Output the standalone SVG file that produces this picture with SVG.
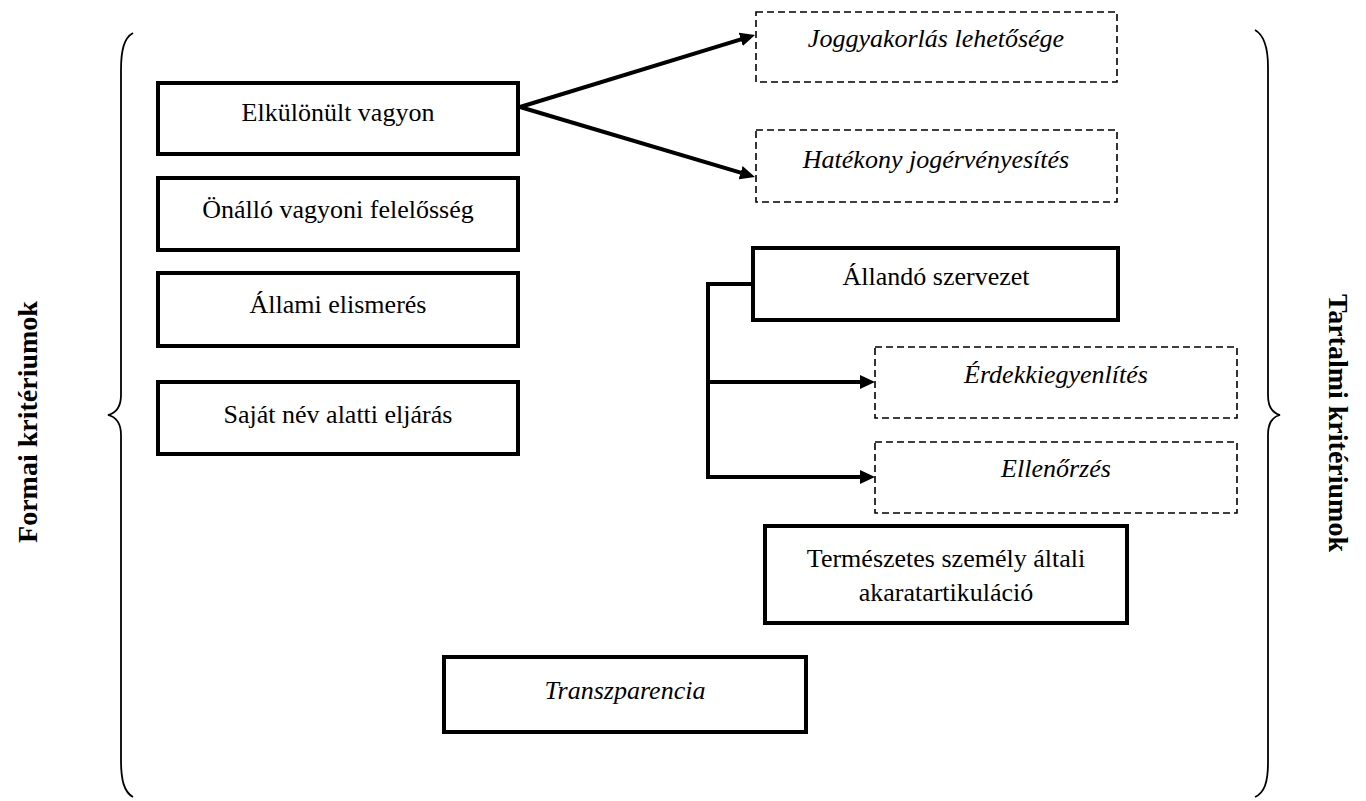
<svg xmlns="http://www.w3.org/2000/svg" width="1366" height="801" viewBox="0 0 1366 801">
  <style>
    .solid { fill: #ffffff; stroke: #000000; stroke-width: 4; }
    .dash { fill: #ffffff; stroke: #000000; stroke-width: 1.6; stroke-dasharray: 7 4; }
    .lbl { font-family: "Liberation Serif", "Times New Roman", serif; font-size: 26px; fill: #000000; text-anchor: middle; }
    .it { font-style: italic; }
    .side { font-family: "Liberation Serif", "Times New Roman", serif; font-size: 28px; font-weight: bold; fill: #000000; text-anchor: middle; dominant-baseline: central; }
    .brace { fill: none; stroke: #000000; stroke-width: 1.8; }
    .conn { fill: none; stroke: #000000; stroke-width: 4; }
  </style>
  <defs>
    <marker id="arrow" markerUnits="userSpaceOnUse" markerWidth="16" markerHeight="14" refX="7" refY="7" orient="auto">
      <path d="M0,0 L15,7 L0,14 z" fill="#000000"/>
    </marker>
  </defs>

  <g id="brace-left">
    <path class="brace" d="M133,33 C124,38 121,50 121,70 L121,395 C121,407 116,413 108,415 C116,417 121,423 121,435 L121,760 C121,780 124,792 133,797"/>
    <text class="side" transform="translate(27,422) rotate(-90)">Formai kritériumok</text>
  </g>
  <g id="brace-right">
    <path class="brace" d="M1255,30 C1264,35 1268,47 1268,67 L1268,395 C1268,407 1272,413 1280,415 C1272,417 1268,423 1268,435 L1268,763 C1268,783 1264,793 1255,797"/>
    <text class="side" transform="translate(1338,423) rotate(90)">Tartalmi kritériumok</text>
  </g>

  <g id="connectors">
    <line class="conn" x1="520" y1="107" x2="747.4" y2="37.3" marker-end="url(#arrow)"/>
    <line class="conn" x1="520" y1="107" x2="747.3" y2="174.7" marker-end="url(#arrow)"/>
    <path class="conn" d="M753,284 H708 V382 H867" marker-end="url(#arrow)"/>
    <path class="conn" d="M708,380 V477 H867" marker-end="url(#arrow)"/>
  </g>

  <g id="n-elkulonult">
    <rect class="solid" x="158" y="83" width="360" height="71"/>
    <text class="lbl" x="338" y="121">Elkülönült vagyon</text>
  </g>
  <g id="n-onallo">
    <rect class="solid" x="158" y="178" width="360" height="72"/>
    <text class="lbl" x="338" y="218">Önálló vagyoni felelősség</text>
  </g>
  <g id="n-allami">
    <rect class="solid" x="158" y="273" width="360" height="73"/>
    <text class="lbl" x="338" y="313">Állami elismerés</text>
  </g>
  <g id="n-sajat">
    <rect class="solid" x="158" y="382" width="360" height="72"/>
    <text class="lbl" x="338" y="423">Saját név alatti eljárás</text>
  </g>

  <g id="n-joggyakorlas">
    <rect class="dash" x="756" y="12" width="361" height="70"/>
    <text class="lbl it" x="936" y="47">Joggyakorlás lehetősége</text>
  </g>
  <g id="n-hatekony">
    <rect class="dash" x="756" y="130" width="361" height="72"/>
    <text class="lbl it" x="936" y="168">Hatékony jogérvényesítés</text>
  </g>
  <g id="n-allando">
    <rect class="solid" x="753" y="248" width="365" height="72"/>
    <text class="lbl" x="936" y="285">Állandó szervezet</text>
  </g>
  <g id="n-erdek">
    <rect class="dash" x="875" y="347" width="362" height="71"/>
    <text class="lbl it" x="1056" y="383">Érdekkiegyenlítés</text>
  </g>
  <g id="n-ellenorzes">
    <rect class="dash" x="875" y="442" width="362" height="71"/>
    <text class="lbl it" x="1056" y="477">Ellenőrzés</text>
  </g>
  <g id="n-termeszetes">
    <rect class="solid" x="765" y="526" width="362" height="97"/>
    <text class="lbl" x="946" y="567">Természetes személy általi</text>
    <text class="lbl" x="946" y="601">akaratartikuláció</text>
  </g>
  <g id="n-transzparencia">
    <rect class="solid" x="444" y="657" width="362" height="75"/>
    <text class="lbl it" x="625" y="699">Transzparencia</text>
  </g>
</svg>
